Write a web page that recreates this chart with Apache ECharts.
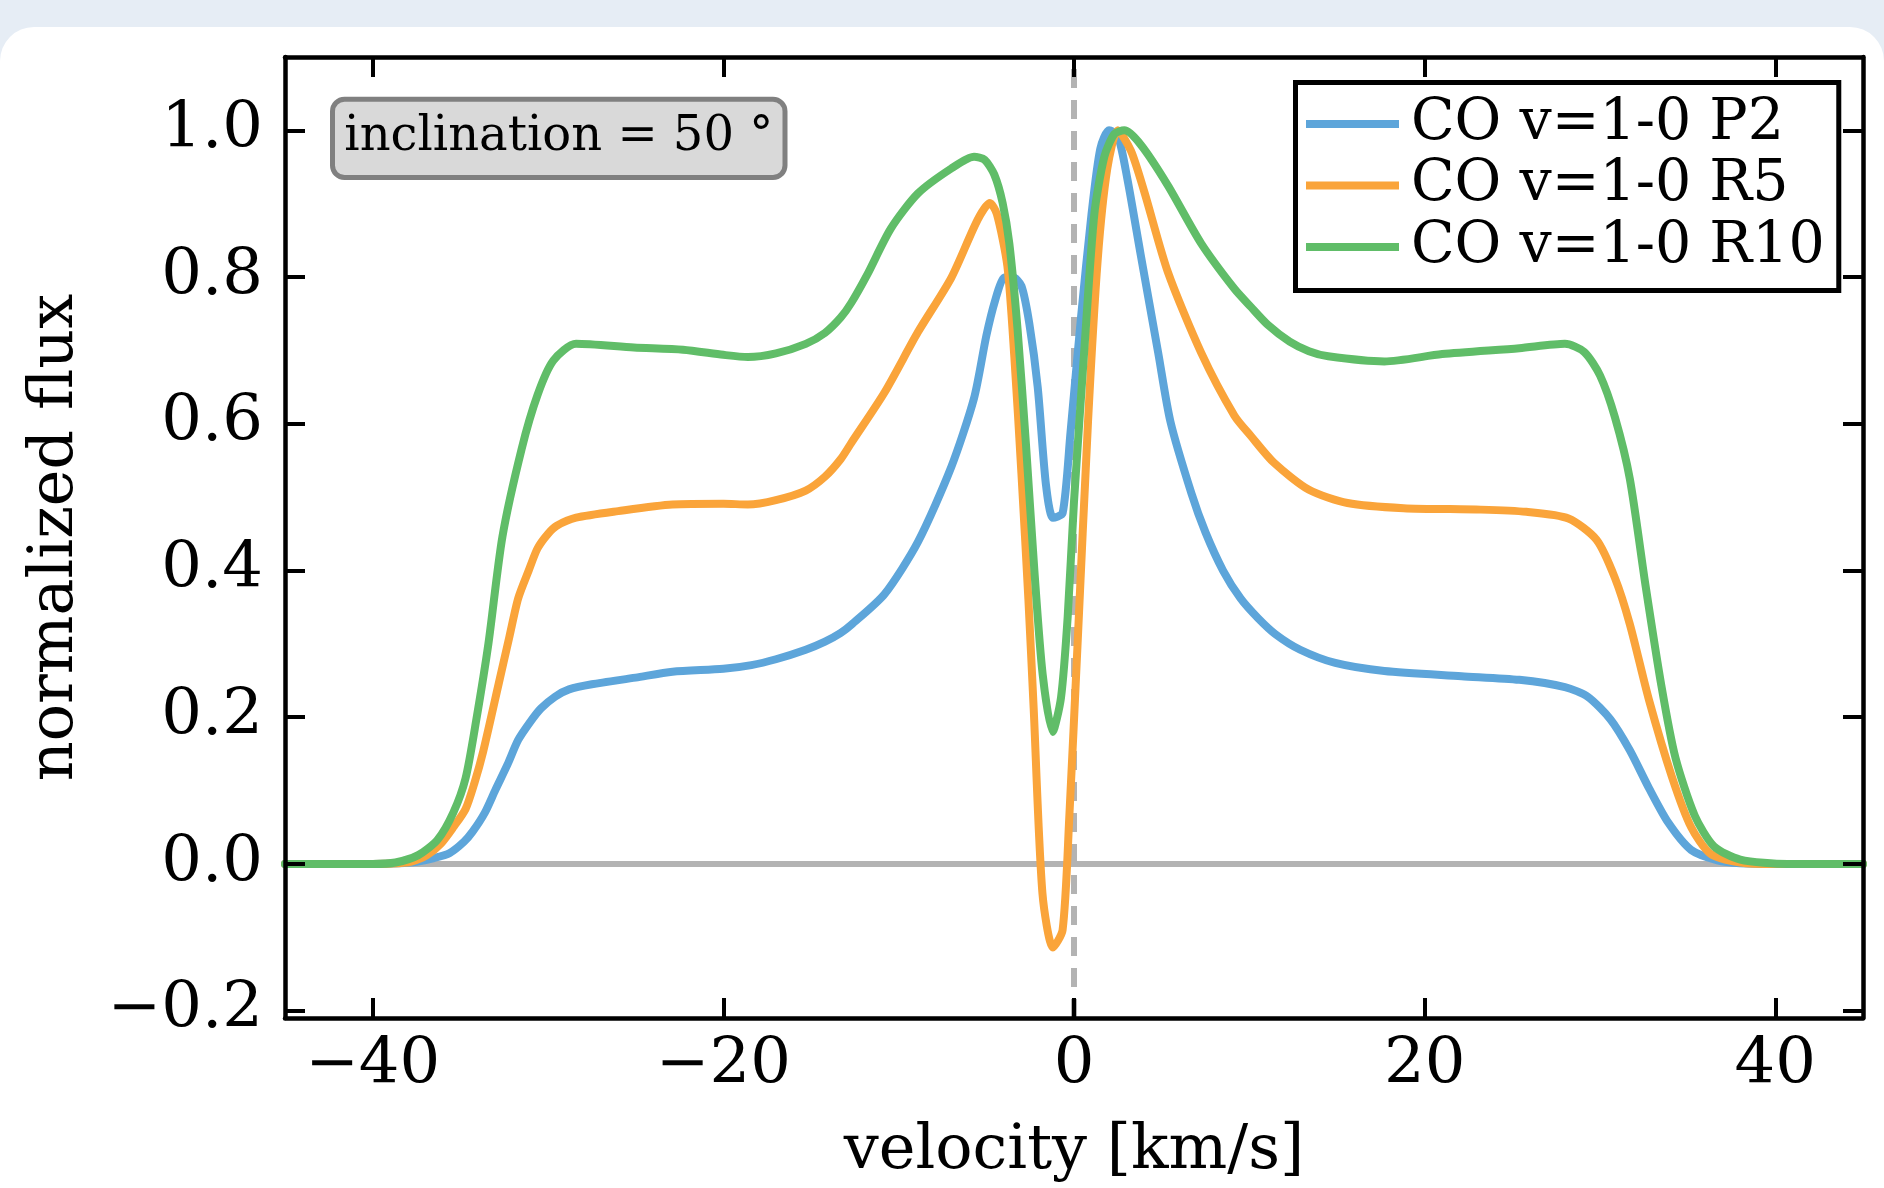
<!DOCTYPE html>
<html>
<head>
<meta charset="utf-8">
<title>CO line profiles</title>
<script src="https://cdn.jsdelivr.net/npm/echarts@6/dist/echarts.min.js"></script>
<style>
  html, body { margin: 0; padding: 0; width: 1884px; height: 1188px; overflow: hidden; background: #e6edf5; }
  #card { position: absolute; left: 0; top: 27px; width: 1884px; height: 1220px; background: #ffffff; border-radius: 34px; }
  #chart { position: absolute; left: 0; top: 0; width: 1884px; height: 1188px; }
</style>
</head>
<body>
<div id="card"></div>
<div id="chart"></div>
<script>
// Line profiles: [velocity km/s, normalized flux]
const lineP2 = [
  [-45, 0], [-40, 0], [-38.5, 0.001], [-37.5, 0.003], [-36.5, 0.008], [-35.6, 0.015],
  [-34.8, 0.03], [-34.3, 0.044], [-33.6, 0.07], [-33.0, 0.101], [-32.3, 0.136], [-31.7, 0.169],
  [-31.0, 0.194], [-30.4, 0.212], [-29.6, 0.228], [-28.8, 0.238], [-27.5, 0.245], [-25, 0.254],
  [-22.9, 0.262], [-20, 0.266], [-18.4, 0.271], [-17, 0.279], [-15.3, 0.292], [-14.2, 0.303],
  [-13.3, 0.315], [-12.7, 0.326], [-10.8, 0.368], [-8.9, 0.439], [-7.0, 0.541], [-5.7, 0.635],
  [-5.0, 0.72], [-4.5, 0.768], [-4.0, 0.799], [-3.5, 0.800], [-3.0, 0.788], [-2.55, 0.737],
  [-2.07, 0.650], [-1.6, 0.517], [-1.2, 0.472], [-0.65, 0.478], [-0.2, 0.588], [0.4, 0.745],
  [1.0, 0.886], [1.5, 0.975], [2.0, 1.0], [2.5, 0.993], [3.05, 0.933], [3.8, 0.831],
  [4.8, 0.697], [5.5, 0.603], [6.7, 0.505], [7.5, 0.452], [8.5, 0.400], [9.5, 0.362],
  [10.5, 0.335], [11.5, 0.313], [12.9, 0.292], [14.9, 0.274], [17.7, 0.263], [22.1, 0.256],
  [25.4, 0.251], [28.0, 0.241], [29.3, 0.228], [30.6, 0.197], [31.7, 0.155], [32.8, 0.103],
  [33.9, 0.056], [35.2, 0.019], [36.7, 0.005], [38.0, 0.001], [40, 0], [45, 0]
];
const lineR5 = [
  [-45, 0], [-40, 0], [-38.5, 0.001], [-37.8, 0.003], [-36.9, 0.012], [-36.1, 0.028],
  [-35.4, 0.05], [-34.7, 0.075], [-34.2, 0.11], [-33.7, 0.153], [-32.8, 0.247], [-32.2, 0.31],
  [-31.7, 0.362], [-31.1, 0.40], [-30.6, 0.43], [-30.0, 0.45], [-29.5, 0.461], [-28.4, 0.472],
  [-26, 0.481], [-22.9, 0.490], [-20, 0.491], [-18.6, 0.490], [-17, 0.496], [-15.3, 0.509],
  [-14.2, 0.528], [-13.3, 0.552], [-12.7, 0.574], [-10.8, 0.643], [-8.9, 0.725], [-7.0, 0.799],
  [-5.5, 0.878], [-4.8, 0.901], [-4.4, 0.886], [-3.8, 0.815], [-3.4, 0.690], [-3.0, 0.533],
  [-2.6, 0.36], [-2.3, 0.212], [-1.8, -0.04], [-1.2, -0.114], [-0.65, -0.09], [-0.27, 0.063],
  [0.2, 0.298], [0.8, 0.603], [1.35, 0.823], [1.9, 0.948], [2.5, 1.0], [3.25, 0.972],
  [4.0, 0.917], [5.35, 0.807], [7.25, 0.697], [9.15, 0.611], [10.1, 0.583], [11.4, 0.547],
  [13.4, 0.510], [15.6, 0.492], [18.8, 0.485], [23.2, 0.483], [25.8, 0.480], [28.2, 0.471],
  [29.8, 0.442], [30.85, 0.390], [31.7, 0.327], [32.8, 0.223], [34.1, 0.119], [35.2, 0.05],
  [36.3, 0.014], [38.0, 0.002], [40, 0], [45, 0]
];
const lineR10 = [
  [-45, 0], [-40, 0], [-38.7, 0.002], [-37.4, 0.012], [-36.3, 0.033], [-35.4, 0.07],
  [-34.7, 0.117], [-34.1, 0.195], [-33.4, 0.30], [-32.6, 0.446], [-31.5, 0.566], [-30.6, 0.639],
  [-29.7, 0.686], [-28.4, 0.709], [-25.1, 0.704], [-22.3, 0.701], [-20, 0.694], [-18.6, 0.691],
  [-17, 0.696], [-15.3, 0.709], [-14.2, 0.724], [-13.3, 0.745], [-12.7, 0.765], [-11.8, 0.803],
  [-10.45, 0.866], [-8.9, 0.914], [-7.0, 0.948], [-5.7, 0.964], [-5.1, 0.96], [-4.55, 0.940],
  [-4.07, 0.901], [-3.69, 0.846], [-3.22, 0.729], [-2.74, 0.572], [-2.26, 0.40], [-1.79, 0.259],
  [-1.22, 0.180], [-0.74, 0.227], [-0.36, 0.337], [0.0, 0.494], [0.6, 0.705], [1.16, 0.886],
  [1.73, 0.964], [2.3, 0.995], [2.87, 1.0], [3.82, 0.98], [5.35, 0.925], [7.25, 0.846],
  [9.15, 0.784], [10.1, 0.759], [11.05, 0.735], [12.3, 0.712], [13.4, 0.699], [14.5, 0.692],
  [17.7, 0.685], [21.0, 0.695], [25.4, 0.703], [28.0, 0.709], [29.1, 0.698], [30.0, 0.666],
  [30.85, 0.609], [31.7, 0.525], [32.6, 0.379], [33.5, 0.243], [34.3, 0.145], [35.4, 0.066],
  [36.5, 0.024], [38.0, 0.006], [40.7, 0.0], [45, 0]
];

const seriesNames = ['CO v=1-0 P2', 'CO v=1-0 R5', 'CO v=1-0 R10'];
const seriesColors = ['#5DA5DA', '#FAA43A', '#60BD68'];

// Axis ranges and tick positions
const velocityRange = [-45, 45];
const fluxRange = [-0.21, 1.1];
const velocityTicks = [-40, -20, 0, 20, 40];
const fluxTicks = [-0.2, 0, 0.2, 0.4, 0.6, 0.8, 1.0];

// Reference lines: zero flux and rest velocity
const zeroFluxLine = [[-45, 0], [45, 0]];
const restVelocityLine = [[0, -0.21], [0, 1.1]];

const annotationText = 'inclination = 50 °';

const FONT = '"DejaVu Serif", "Liberation Serif", serif';
const minus = s => String(s).replace('-', '\u2212');

const frameLine = { show: true, onZero: false, lineStyle: { color: '#000', width: 4.5 } };
const frameTick = (vals) => ({ show: true, inside: true, length: 20, customValues: vals,
  lineStyle: { color: '#000', width: 4 } });

const chart = echarts.init(document.getElementById('chart'), null, { renderer: 'canvas' });

const profiles = [lineP2, lineR5, lineR10];

chart.setOption({
  animation: false,
  backgroundColor: 'transparent',
  textStyle: { fontFamily: FONT },
  grid: { left: 285, right: 21, top: 57, bottom: 170, containLabel: false },
  xAxis: [
    {
      type: 'value', position: 'bottom', min: velocityRange[0], max: velocityRange[1], z: 5,
      axisLine: frameLine, axisTick: frameTick(velocityTicks), splitLine: { show: false },
      axisLabel: { show: true, customValues: velocityTicks, margin: 16, fontSize: 64,
        fontFamily: FONT, color: '#000', formatter: v => minus(v) },
      name: 'velocity [km/s]', nameLocation: 'middle', nameGap: 103,
      nameTextStyle: { fontSize: 62, fontFamily: FONT, color: '#000' }
    },
    {
      type: 'value', position: 'top', min: velocityRange[0], max: velocityRange[1], z: 5,
      axisLine: frameLine, axisTick: frameTick(velocityTicks), splitLine: { show: false },
      axisLabel: { show: false }
    }
  ],
  yAxis: [
    {
      type: 'value', position: 'left', min: fluxRange[0], max: fluxRange[1], z: 5,
      axisLine: frameLine, axisTick: frameTick(fluxTicks), splitLine: { show: false },
      axisLabel: { show: true, customValues: fluxTicks, margin: 22, fontSize: 64,
        fontFamily: FONT, color: '#000', formatter: v => minus(Number(v).toFixed(1)) },
      name: 'normalized flux', nameLocation: 'middle', nameGap: 198,
      nameTextStyle: { fontSize: 62, fontFamily: FONT, color: '#000' }
    },
    {
      type: 'value', position: 'right', min: fluxRange[0], max: fluxRange[1], z: 5,
      axisLine: frameLine, axisTick: frameTick(fluxTicks), splitLine: { show: false },
      axisLabel: { show: false }
    }
  ],
  legend: {
    data: seriesNames,
    orient: 'vertical',
    left: 1295.5, top: 82.5,
    padding: [13, 14, 15, 10.5],
    itemWidth: 93, itemHeight: 8, itemGap: 4.5,
    icon: 'rect',
    selectedMode: false,
    backgroundColor: '#fff', borderColor: '#000', borderWidth: 5, borderRadius: 0,
    textStyle: { fontSize: 57, lineHeight: 56, fontFamily: FONT, color: '#000', padding: [0, 0, 0, 7] },
    z: 8
  },
  graphic: [
    {
      type: 'rect', z: 8,
      shape: { x: 332.5, y: 99.2, width: 452.5, height: 78.3, r: 12 },
      style: { fill: '#d9d9d9', stroke: '#808080', lineWidth: 5 }
    },
    {
      type: 'text', z: 9,
      style: { text: annotationText, x: 558.75, y: 138, align: 'center', verticalAlign: 'middle',
        fontSize: 48, fontFamily: FONT, fill: '#000' }
    }
  ],
  series: [
    {
      type: 'line', data: zeroFluxLine, silent: true, symbol: 'none', z: 1,
      lineStyle: { color: '#b3b3b3', width: 6 }
    },
    {
      type: 'line', data: restVelocityLine, silent: true, symbol: 'none', z: 1,
      lineStyle: { color: '#b3b3b3', width: 6, type: [19, 12] }
    }
  ].concat(profiles.map((d, i) => ({
    name: seriesNames[i], type: 'line', data: d, symbol: 'none', showSymbol: false, z: 3,
    smooth: 0.25,
    lineStyle: { color: seriesColors[i], width: 8, join: 'round', cap: 'round' },
    itemStyle: { color: seriesColors[i] }
  })))
});
</script>
</body>
</html>
